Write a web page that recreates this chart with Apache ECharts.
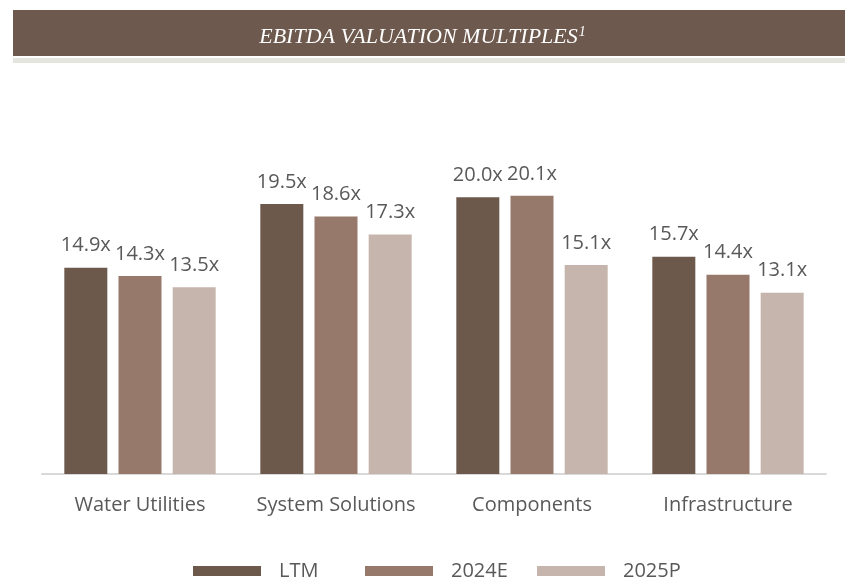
<!DOCTYPE html>
<html lang="en">
<head>
    <meta charset="UTF-8">
    <title>EBITDA Valuation Multiples</title>
    <script src="https://cdn.jsdelivr.net/npm/echarts@6/dist/echarts.min.js"></script>
    <style>
        html, body { margin: 0; padding: 0; background: #fff; }
        #chart { width: 845px; height: 581px; }
    </style>
</head>
<body>
    <div id="chart"></div>
    <script>
        const categories = ['Water Utilities', 'System Solutions', 'Components', 'Infrastructure'];
        const seriesNames = ['LTM', '2024E', '2025P'];
        const ltm = [14.9, 19.5, 20.0, 15.7];
        const e2024 = [14.3, 18.6, 20.1, 14.4];
        const p2025 = [13.5, 17.3, 15.1, 13.1];
        const colors = ['#6d584c', '#97796c', '#c6b5ac'];

        const chart = echarts.init(document.getElementById('chart'));
        const font = '"Open Sans", "Noto Sans", sans-serif';

        const makeSeries = (name, data, color) => ({
            name: name,
            type: 'bar',
            data: data,
            barWidth: 43,
            barGap: '26%',
            itemStyle: { color: color },
            label: {
                show: true,
                position: 'top',
                distance: 12,
                color: '#595959',
                fontFamily: font,
                fontSize: 20,
                formatter: p => p.value.toFixed(1) + 'x'
            },
            animation: false
        });

        // one legend per series so the items sit at fixed spacing
        const legendLeft = [193, 365, 537];
        const legends = seriesNames.map((n, i) => ({
            data: [n],
            left: legendLeft[i],
            top: 561,
            padding: 0,
            itemWidth: 68,
            itemHeight: 10,
            icon: 'rect',
            selectedMode: false,
            textStyle: { color: '#595959', fontFamily: font, fontSize: 20, padding: [0, 0, 0, 13] }
        }));

        const option = {
            backgroundColor: '#fff',
            graphic: [
                { type: 'rect', shape: { x: 13, y: 10, width: 832, height: 46 }, style: { fill: '#6d594d' } },
                { type: 'rect', shape: { x: 13, y: 58, width: 832, height: 5 }, style: { fill: '#e3e5de' } }
            ],
            title: {
                text: '{a|EBITDA VALUATION MULTIPLES}{s|1}',
                left: 'center',
                top: 20,
                textStyle: {
                    rich: {
                        a: { color: '#fff', fontFamily: '"Liberation Serif", serif', fontStyle: 'italic', fontWeight: 'normal', fontSize: 22 },
                        s: { color: '#fff', fontFamily: '"Liberation Serif", serif', fontStyle: 'italic', fontWeight: 'normal', fontSize: 14, verticalAlign: 'top', padding: [0, 0, 10, 1] }
                    }
                }
            },
            legend: legends,
            grid: { left: 42, right: 19, top: 128, bottom: 107 },
            xAxis: {
                type: 'category',
                data: categories,
                axisLine: { lineStyle: { color: '#d9d9d9', width: 2 } },
                axisTick: { show: false },
                axisLabel: { color: '#595959', fontFamily: font, fontSize: 20, margin: 21, interval: 0 }
            },
            yAxis: {
                type: 'value',
                min: 0,
                max: 25,
                show: false,
                splitLine: { show: false }
            },
            series: [
                makeSeries(seriesNames[0], ltm, colors[0]),
                makeSeries(seriesNames[1], e2024, colors[1]),
                makeSeries(seriesNames[2], p2025, colors[2])
            ]
        };
        chart.setOption(option);
    </script>
</body>
</html>
